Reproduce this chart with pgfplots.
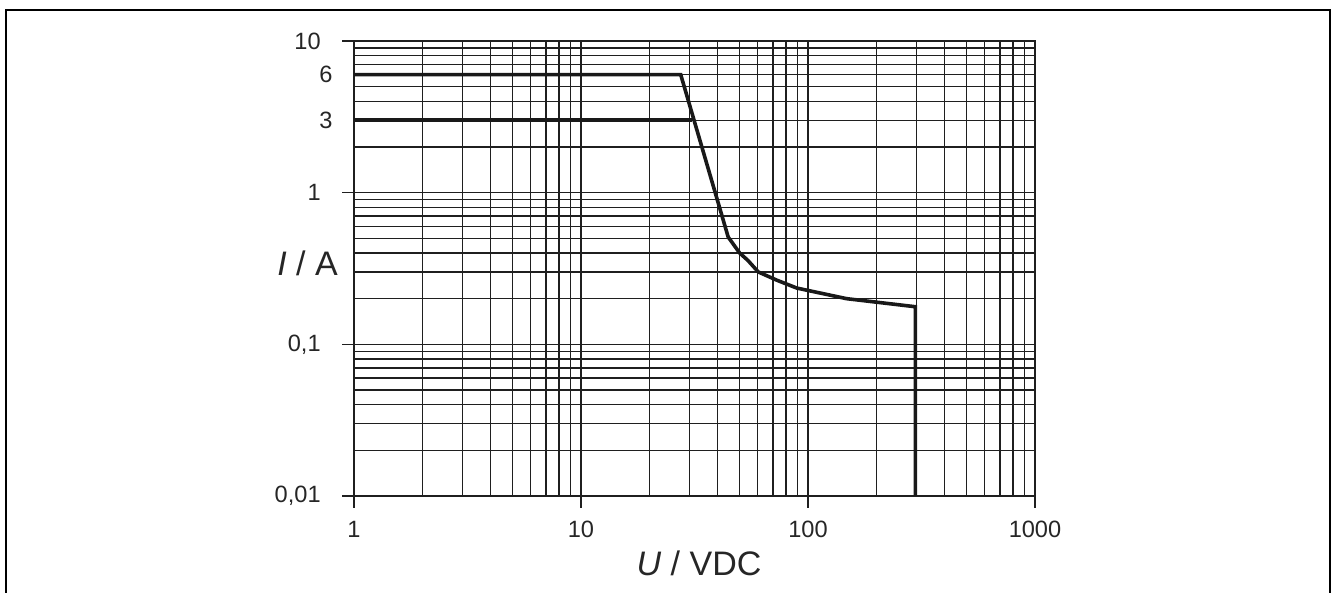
\documentclass[border=0pt]{standalone}
\usepackage{pgfplots}
\pgfplotsset{compat=1.18}
\usepackage{fontspec}
\setmainfont{Liberation Sans}

\begin{document}
\begin{tikzpicture}
% canvas: 1 px of the reference = 0.5pt
\path[use as bounding box] (0,0) rectangle (667pt,296.5pt);
\draw[line width=1pt] (2.85pt,-2pt) -- (2.85pt,291.5pt) -- (664.75pt,291.5pt) -- (664.75pt,-2pt);

\begin{axis}[
  at={(177pt,48.5pt)}, anchor=south west,
  scale only axis, width=340.5pt, height=227.5pt,
  xmode=log, ymode=log,
  xmin=1, xmax=1000, ymin=0.01, ymax=10,
  xtick={1,10,100,1000}, xticklabels={1,10,100,1000},
  ytick={0.01,0.1,1,10}, yticklabels={{0,01},{0,1},1,10},
  extra y ticks={3,6}, extra y tick labels={3,6},
  extra y tick style={major tick length=0pt, grid=none},
  tick pos=left, tick align=outside,
  major tick length=6pt, minor tick length=0pt,
  xmajorgrids, xminorgrids, ymajorgrids, yminorgrids,
  grid style={line width=0.75pt, black!88},
  major grid style={line width=0.75pt, black!88},
  axis line style={line width=0.75pt, black!88},
  tick style={line width=0.75pt, black!88},
  tick label style={font=\fontsize{11.8}{13}\selectfont, text=black!85},
  xticklabel style={anchor=base, yshift=-15pt},
  yticklabel style={anchor=east, inner sep=0pt, xshift=-10.5pt},
  xlabel={\textit{U} / VDC},
  ylabel={\textit{I} / A},
  xlabel style={at={(axis description cs:0.5066,-0.1758)}, anchor=base,
    font=\fontsize{17}{20}\selectfont, text=black!85},
  ylabel style={at={(axis description cs:-0.0683,0.4835)}, anchor=base, rotate=-90,
    font=\fontsize{17}{20}\selectfont, text=black!85},
]
\addplot[line width=1.8pt, black!90] coordinates {
  (1,6) (27.5,6) (44.5,0.51) (50,0.4) (54.4,0.357) (60.4,0.30)
  (72.8,0.265) (89.2,0.235) (148,0.2) (297,0.177) (297,0.01)
};
\addplot[line width=1.8pt, black!90] coordinates {
  (1,3) (30.9,3)
};
\end{axis}
\end{tikzpicture}
\end{document}
